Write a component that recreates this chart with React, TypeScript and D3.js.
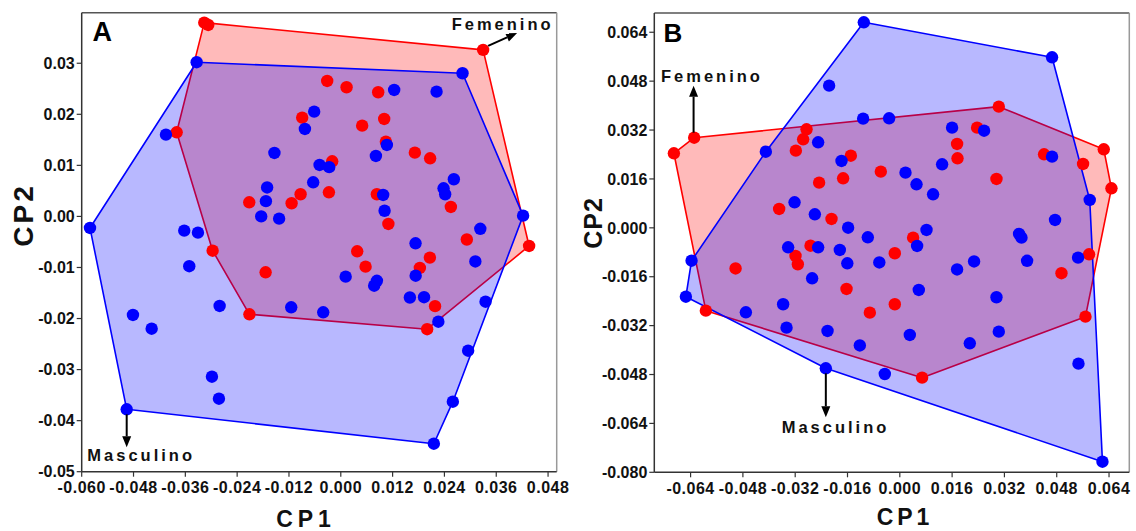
import React from "react";
import * as d3 from "d3";

// ---------- DATA ----------
// Panel A  (CP1, CP2)
const femeninoA: [number, number][] = [
  [-0.03162, 0.03795], [-0.03069, 0.0375], [0.03296, 0.03261], [-0.00315, 0.02653],
  [0.00134, 0.0253], [0.00866, 0.02432], [-0.00894, 0.01934], [0.01005, 0.01909],
  [0.00495, 0.01778], [-0.03801, 0.01648], [0.01044, 0.01464], [0.01715, 0.01249],
  [0.02069, 0.01139], [-0.00199, 0.0108], [-0.00275, 0.00473], [-0.00931, 0.00434],
  [-0.01139, 0.00258], [-0.0212, 0.00277], [0.00836, 0.00434], [0.02549, 0.00185],
  [0.01102, -0.00148], [0.02919, -0.00452], [0.04361, -0.00579], [-0.02968, -0.00671],
  [0.0038, -0.00683], [0.02063, -0.00808], [0.00574, -0.00984], [0.01831, -0.0101],
  [-0.01741, -0.01094], [0.02183, -0.01758], [0.02, -0.02209], [-0.02116, -0.01917],
];
const masculinoA: [number, number][] = [
  [-0.03338, 0.0302], [0.02819, 0.02804], [0.01236, 0.02477], [0.02218, 0.02444],
  [-0.00616, 0.02052], [-0.00831, 0.01713], [-0.04049, 0.01601], [0.01067, 0.014],
  [-0.01537, 0.01243], [0.00813, 0.01184], [-0.00491, 0.01008], [-0.00269, 0.00965],
  [0.02618, 0.00728], [-0.00639, 0.00669], [-0.01706, 0.00567], [0.0238, 0.00551],
  [0.02417, 0.00434], [-0.01734, 0.00299], [0.00981, 0.0042], [0.01014, 0.00111],
  [-0.01843, 0.0], [-0.01428, -0.00044], [0.04222, 0.00015], [-0.05808, -0.00226],
  [-0.03625, -0.00279], [-0.03308, -0.00318], [0.03231, -0.00242], [0.01731, -0.00526],
  [0.03116, -0.00882], [-0.03509, -0.00975], [0.00113, -0.0118], [0.00836, -0.01261],
  [0.00773, -0.01357], [0.01734, -0.01161], [0.016, -0.01588], [0.01928, -0.01582],
  [0.03352, -0.0167], [-0.01148, -0.0178], [-0.00407, -0.01878], [-0.02806, -0.01754],
  [-0.04813, -0.0193], [-0.0438, -0.02199], [0.02259, -0.02062], [0.02949, -0.0263],
  [-0.02984, -0.03139], [-0.02822, -0.0357], [0.02595, -0.03629], [-0.04958, -0.03778],
  [0.02155, -0.04452],
];
// Panel B
const femeninoB: [number, number][] = [
  [-0.0629, 0.0295], [-0.06911, 0.0244], [-0.02853, 0.03225], [-0.02957, 0.02898],
  [-0.0318, 0.02525], [-0.01498, 0.02361], [-0.01734, 0.01622], [-0.02468, 0.01478],
  [-0.03691, 0.00617], [-0.02089, 0.0029], [-0.02731, -0.00584], [-0.0319, -0.00921],
  [-0.03119, -0.01192], [-0.05024, -0.0133], [-0.0163, -0.02001], [-0.05933, -0.02711],
  [-0.00917, -0.02776], [0.03028, 0.03965], [0.02364, 0.03278], [0.01752, 0.02744],
  [0.01765, 0.02276], [0.06239, 0.02571], [0.04413, 0.02407], [0.05606, 0.0209],
  [0.06474, 0.01294], [-0.00581, 0.01838], [0.02957, 0.01599], [0.00407, -0.00322],
  [-0.00153, -0.00832], [0.05789, -0.00865], [0.04945, -0.01484], [-0.00153, -0.02501],
  [0.05679, -0.02907], [0.00682, -0.04903],
];
const masculinoB: [number, number][] = [
  [-0.01101, 0.06726], [-0.02162, 0.04652], [-0.01122, 0.03572], [-0.04098, 0.02492],
  [-0.02498, 0.028], [-0.01783, 0.02188], [-0.0322, 0.00836], [-0.02599, 0.00444],
  [-0.01581, 0.00005], [-0.00979, -0.00309], [-0.03416, -0.00636], [-0.02498, -0.00636],
  [-0.01835, -0.00724], [-0.01606, -0.0116], [-0.0637, -0.01075], [-0.02682, -0.01651],
  [-0.06544, -0.02253], [-0.04709, -0.02763], [-0.03569, -0.02501], [-0.03465, -0.03267],
  [-0.02211, -0.03375], [-0.01223, -0.03849], [-0.02263, -0.04596], [0.04657, 0.05581],
  [-0.00327, 0.03585], [0.01599, 0.03278], [0.02578, 0.03179], [0.04657, 0.02329],
  [0.00174, 0.01805], [0.00511, 0.01425], [0.01294, 0.0208], [0.01018, 0.01098],
  [0.0581, 0.00912], [0.04749, 0.00257], [0.00817, -0.0007], [0.00529, -0.00594],
  [-0.00627, -0.01134], [0.03648, -0.00201], [0.03722, -0.00322], [0.02272, -0.01101],
  [0.03893, -0.01078], [0.01752, -0.01363], [0.05453, -0.00976], [0.00581, -0.02034],
  [0.02957, -0.02272], [0.00306, -0.03506], [0.02141, -0.03778], [0.03028, -0.03398],
  [-0.00459, -0.04783], [0.05465, -0.04445], [0.06199, -0.07653],
];

const A_X_TICKS = [-0.06, -0.048, -0.036, -0.024, -0.012, 0, 0.012, 0.024, 0.036, 0.048];
const A_Y_TICKS = [-0.05, -0.04, -0.03, -0.02, -0.01, 0, 0.01, 0.02, 0.03];
const B_X_TICKS = [-0.064, -0.048, -0.032, -0.016, 0, 0.016, 0.032, 0.048, 0.064];
const B_Y_TICKS = [-0.08, -0.064, -0.048, -0.032, -0.016, 0, 0.016, 0.032, 0.048, 0.064];

const FONT = "'Liberation Sans', Arial, Helvetica, sans-serif";
const BLUE = "#0000ff";
const RED = "#ff0000";

function fmt(v: number, d: number) {
  const s = Math.abs(v) < 1e-12 ? (0).toFixed(d) : v.toFixed(d);
  return s;
}

type Pt = [number, number];

function Arrow({ x1, y1, x2, y2 }: { x1: number; y1: number; x2: number; y2: number }) {
  const ang = Math.atan2(y2 - y1, x2 - x1);
  const L = 11, W = 4.5;
  const bx = x2 - L * Math.cos(ang), by = y2 - L * Math.sin(ang);
  const px = -Math.sin(ang) * W, py = Math.cos(ang) * W;
  return (
    <g>
      <line x1={x1} y1={y1} x2={bx} y2={by} stroke="#000" strokeWidth={2} />
      <path d={`M${x2},${y2}L${bx + px},${by + py}L${bx - px},${by - py}Z`} fill="#000" />
    </g>
  );
}

function Panel(props: {
  fem: Pt[]; mas: Pt[]; xDom: [number, number]; yDom: [number, number];
  left: number; right: number; top: number; bottom: number;
  xTicks: number[]; yTicks: number[]; xDec: number; yDec: number;
  letter: string; letterPos: [number, number]; letterSize: number;
  xTitle: { x: number; y: number; size: number; ls: number };
  yTitle: { x: number; y: number; size: number; ls: number };
  femLabel: { x: number; y: number }; femArrow: [number, number, number, number];
  masLabel: { x: number; y: number }; masArrow: [number, number, number, number];
  femIdx: number; masIdx: number;
}) {
  const p = props;
  const x = d3.scaleLinear().domain(p.xDom).range([p.left, p.right]);
  const y = d3.scaleLinear().domain(p.yDom).range([p.bottom, p.top]);
  const hullF = d3.polygonHull(p.fem.map(d => [x(d[0]), y(d[1])] as [number, number]))!;
  const hullM = d3.polygonHull(p.mas.map(d => [x(d[0]), y(d[1])] as [number, number]))!;
  const line = (h: [number, number][]) => "M" + h.map(q => q.join(",")).join("L") + "Z";
  const fa = p.femArrow, ma = p.masArrow;
  const fp = p.fem[p.femIdx], mp = p.mas[p.masIdx];
  return (
    <g fontFamily={FONT} fontWeight="bold">
      <path d={line(hullF)} fill="rgba(255,0,0,0.27)" stroke={RED} strokeWidth={1.6} strokeLinejoin="round" />
      <path d={line(hullM)} fill="rgba(0,0,255,0.28)" stroke={BLUE} strokeWidth={1.6} strokeLinejoin="round" />
      {p.fem.map((d, i) => (
        <circle key={"f" + i} cx={x(d[0])} cy={y(d[1])} r={6.2} fill={RED} />
      ))}
      {p.mas.map((d, i) => (
        <circle key={"m" + i} cx={x(d[0])} cy={y(d[1])} r={6.2} fill={BLUE} />
      ))}
      {/* frame */}
      <line x1={p.left} y1={p.top} x2={p.right} y2={p.top} stroke="#555" strokeWidth={1.5} />
      <line x1={p.right} y1={p.top} x2={p.right} y2={p.bottom} stroke="#999" strokeWidth={1.5} />
      <line x1={p.left} y1={p.top} x2={p.left} y2={p.bottom} stroke="#333" strokeWidth={1.5} />
      <line x1={p.left} y1={p.bottom} x2={p.right} y2={p.bottom} stroke="#333" strokeWidth={1.5} />
      {p.xTicks.map((t, i) => (
        <g key={"xt" + i}>
          <line x1={x(t)} x2={x(t)} y1={p.bottom} y2={p.bottom + 5} stroke="#333" strokeWidth={1.2} />
          <text x={x(t)} y={p.bottom + 21.5} textAnchor="middle" fontSize={16}
            style={{ letterSpacing: "0.5px" }} fill="#111">
            {fmt(t, p.xDec)}
          </text>
        </g>
      ))}
      {p.yTicks.map((t, i) => (
        <g key={"yt" + i}>
          <line x1={p.left - 5} x2={p.left} y1={y(t)} y2={y(t)} stroke="#333" strokeWidth={1.2} />
          <text x={p.left - 7} y={y(t)} dy="0.36em" textAnchor="end" fontSize={16} fill="#111">
            {fmt(t, p.yDec)}
          </text>
        </g>
      ))}
      <text x={p.letterPos[0]} y={p.letterPos[1]} fontSize={p.letterSize} fill="#000">{p.letter}</text>
      <text x={p.xTitle.x} y={p.xTitle.y} textAnchor="middle" fontSize={p.xTitle.size}
        style={{ letterSpacing: p.xTitle.ls + "px" }} fill="#111">CP1</text>
      <text transform={`translate(${p.yTitle.x},${p.yTitle.y}) rotate(-90)`} textAnchor="middle"
        fontSize={p.yTitle.size} style={{ letterSpacing: p.yTitle.ls + "px" }} fill="#111">CP2</text>
      <text x={p.femLabel.x} y={p.femLabel.y} fontSize={16.5} style={{ letterSpacing: "3px" }} fill="#111">Femenino</text>
      <text x={p.masLabel.x} y={p.masLabel.y} fontSize={16.5} style={{ letterSpacing: "3px" }} fill="#111">Masculino</text>
      <Arrow x1={x(fp[0]) + fa[0]} y1={y(fp[1]) + fa[1]} x2={x(fp[0]) + fa[2]} y2={y(fp[1]) + fa[3]} />
      <Arrow x1={x(mp[0]) + ma[0]} y1={y(mp[1]) + ma[1]} x2={x(mp[0]) + ma[2]} y2={y(mp[1]) + ma[3]} />
    </g>
  );
}

export default function App() {
  return (
    <svg width={1136} height={531} style={{ position: "absolute", left: 0, top: 0, background: "#fff" }}>
      <rect width={1136} height={531} fill="#fff" />
      <Panel
        fem={femeninoA} mas={masculinoA}
        xDom={[-0.06, 0.05]} yDom={[-0.05, 0.0399]}
        left={81.7} right={556.7} top={12.7} bottom={471.7}
        xTicks={A_X_TICKS} yTicks={A_Y_TICKS} xDec={3} yDec={2}
        letter="A" letterPos={[92.5, 40.7]} letterSize={27}
        xTitle={{ x: 306, y: 527, size: 23, ls: 5 }}
        yTitle={{ x: 33, y: 215, size: 28, ls: 3 }}
        femLabel={{ x: 451.7, y: 29.5 }} femArrow={[5, -4, 34, -17]} femIdx={2}
        masLabel={{ x: 87.3, y: 460.5 }} masArrow={[0, 5, 0, 38]} masIdx={47}
      />
      <Panel
        fem={femeninoB} mas={masculinoB}
        xDom={[-0.0751, 0.0702]} yDom={[-0.08, 0.0703]}
        left={654.3} right={1129.3} top={13} bottom={472.3}
        xTicks={B_X_TICKS} yTicks={B_Y_TICKS} xDec={3} yDec={3}
        letter="B" letterPos={[663.5, 42.3]} letterSize={26}
        xTitle={{ x: 905, y: 525, size: 23, ls: 4 }}
        yTitle={{ x: 601.5, y: 223, size: 25, ls: 1 }}
        femLabel={{ x: 661, y: 81.5 }} femArrow={[-0.6, -5, -0.6, -52]} femIdx={0}
        masLabel={{ x: 781.7, y: 432.5 }} masArrow={[0, 5, 0, 49]} masIdx={22}
      />
    </svg>
  );
}
